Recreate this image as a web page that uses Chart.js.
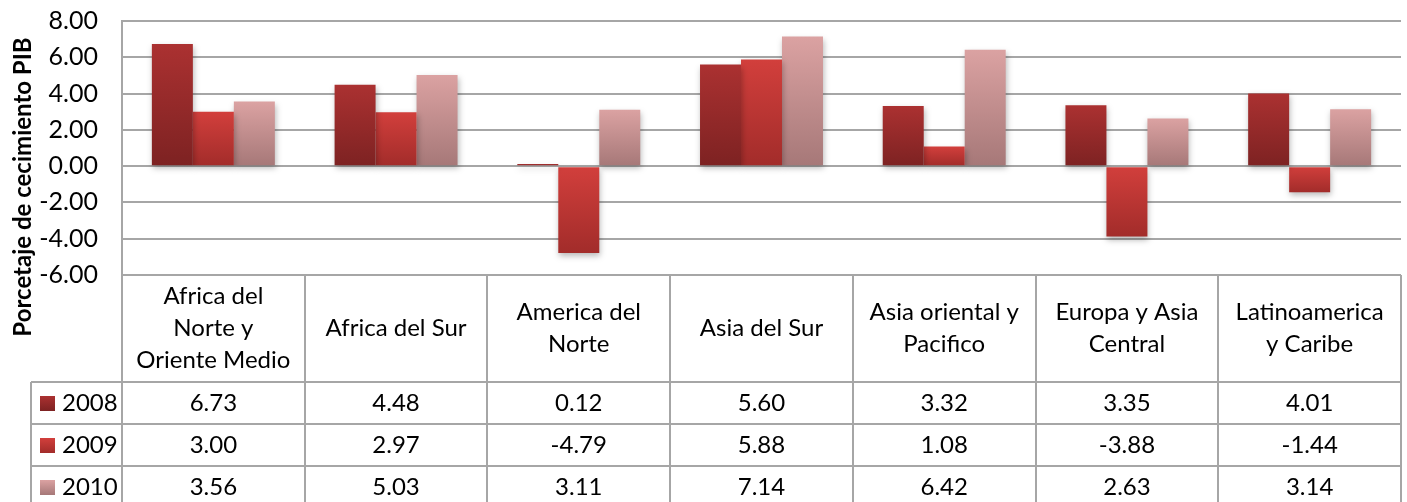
<!DOCTYPE html>
<html>
<head>
<meta charset="utf-8">
<script src="https://cdn.jsdelivr.net/npm/chart.js@4.4.1/dist/chart.umd.min.js"></script>
<style>
  html, body { margin: 0; padding: 0; background: #fff; }
  #wrap { width: 1407px; height: 502px; position: relative; }
</style>
</head>
<body>
<div id="wrap"><canvas id="gdpChart"></canvas></div>
<script>
const regions = [
  ["Africa del", "Norte y", "Oriente Medio"],
  ["Africa del Sur"],
  ["America del", "Norte"],
  ["Asia del Sur"],
  ["Asia oriental y", "Pacifico"],
  ["Europa y Asia", "Central"],
  ["Latinoamerica", "y Caribe"]
];
const years = ["2008", "2009", "2010"];
const growth2008 = [6.73, 4.48, 0.12, 5.60, 3.32, 3.35, 4.01];
const growth2009 = [3.00, 2.97, -4.79, 5.88, 1.08, -3.88, -1.44];
const growth2010 = [3.56, 5.03, 3.11, 7.14, 6.42, 2.63, 3.14];
const yTicks = [-6, -4, -2, 0, 2, 4, 6, 8];

const FONT = "Lato, 'Open Sans', sans-serif";
const GRID = "#a6a6a6";

// top / bottom colour of each series gradient
const shades = [
  ["#ab3131", "#7d2222"],
  ["#d23f3c", "#a22c2a"],
  ["#dba2a2", "#a67878"]
];

function barGradient(top, bottom) {
  return ctx => {
    const chart = ctx.chart;
    if (!chart.chartArea || ctx.type !== "data") return top;
    const y = chart.scales.y;
    const v = ctx.raw;
    const y0 = y.getPixelForValue(Math.max(v, 0));
    const y1 = y.getPixelForValue(Math.min(v, 0));
    const g = chart.ctx.createLinearGradient(0, y0, 0, Math.max(y1, y0 + 1));
    g.addColorStop(0, top);
    g.addColorStop(1, bottom);
    return g;
  };
}

const series = [growth2008, growth2009, growth2010];

// bar shadow
const shadowPlugin = {
  id: "shadow",
  beforeDatasetsDraw(chart) {
    const c = chart.ctx;
    c.save();
    c.shadowColor = "rgba(0,0,0,0.28)";
    c.shadowBlur = 6;
    c.shadowOffsetX = 1;
    c.shadowOffsetY = 3;
  },
  afterDatasetsDraw(chart) {
    chart.ctx.restore();
  }
};

// data table under the plot + axis title
const tablePlugin = {
  id: "dataTable",
  afterDraw(chart) {
    const c = chart.ctx;
    const area = chart.chartArea;
    const x = chart.scales.x;
    const n = regions.length;
    const catW = (area.right - area.left) / n;
    const top = area.bottom;
    const headBottom = 382;
    const rowH = 42;
    const keyLeft = 31;
    const bottom = chart.height + 2;

    c.save();
    c.strokeStyle = GRID;
    c.lineWidth = 2;
    c.beginPath();
    // outer + column lines
    for (let i = 0; i <= n; i++) {
      const px = Math.round(area.left + i * catW);
      c.moveTo(px, top);
      c.lineTo(px, bottom);
    }
    c.moveTo(keyLeft, headBottom);
    c.lineTo(keyLeft, bottom);
    // row lines
    for (let r = 0; r < years.length; r++) {
      const py = headBottom + r * rowH;
      c.moveTo(keyLeft, py);
      c.lineTo(area.right, py);
    }
    c.stroke();

    c.fillStyle = "#000";
    c.textAlign = "center";
    c.textBaseline = "middle";
    c.font = "24px " + FONT;
    // header labels
    const headMid = (top + headBottom) / 2;
    regions.forEach((lines, i) => {
      const cx = x.getPixelForValue(i);
      lines.forEach((t, k) => {
        c.fillText(t, cx, headMid + (k - (lines.length - 1) / 2) * 32);
      });
    });
    // values
    series.forEach((vals, r) => {
      const cy = headBottom + r * rowH + rowH / 2;
      vals.forEach((v, i) => {
        c.fillText(v.toFixed(2), x.getPixelForValue(i), cy);
      });
      // legend key
      const g = c.createLinearGradient(0, cy - 7, 0, cy + 8);
      g.addColorStop(0, shades[r][0]);
      g.addColorStop(1, shades[r][1]);
      c.fillStyle = g;
      c.fillRect(40, cy - 7, 15, 15);
      c.fillStyle = "#000";
      c.textAlign = "left";
      c.fillText(years[r], 62, cy);
      c.textAlign = "center";
    });

    // y axis title
    c.translate(23, 187);
    c.rotate(-Math.PI / 2);
    c.font = "bold 24px " + FONT;
    c.fillText("Porcetaje de cecimiento PIB", 0, 0);
    c.restore();
  }
};

new Chart(document.getElementById("gdpChart"), {
  type: "bar",
  data: {
    labels: regions.map(r => r.join(" ")),
    datasets: series.map((vals, i) => ({
      label: years[i],
      data: vals,
      backgroundColor: barGradient(shades[i][0], shades[i][1]),
      borderWidth: 0,
      categoryPercentage: 0.673,
      barPercentage: 1.0
    }))
  },
  options: {
    responsive: true,
    maintainAspectRatio: false,
    animation: false,
    layout: { padding: { left: 0, top: 21, right: 6, bottom: 227 } },
    plugins: {
      legend: { display: false },
      tooltip: { enabled: false }
    },
    scales: {
      x: { display: false },
      y: {
        min: -6,
        max: 8,
        afterBuildTicks: s => { s.ticks = yTicks.map(v => ({ value: v })); },
        afterFit: s => { s.width = 122; s.paddingTop = 0; s.paddingBottom = 0; },
        ticks: {
          color: "#000",
          font: { family: FONT, size: 25 },
          padding: 24,
          callback: v => Number(v).toFixed(2)
        },
        grid: { color: GRID, lineWidth: 2, drawTicks: false },
        border: { color: GRID, width: 2 }
      }
    }
  },
  plugins: [shadowPlugin, tablePlugin]
});
</script>
</body>
</html>
